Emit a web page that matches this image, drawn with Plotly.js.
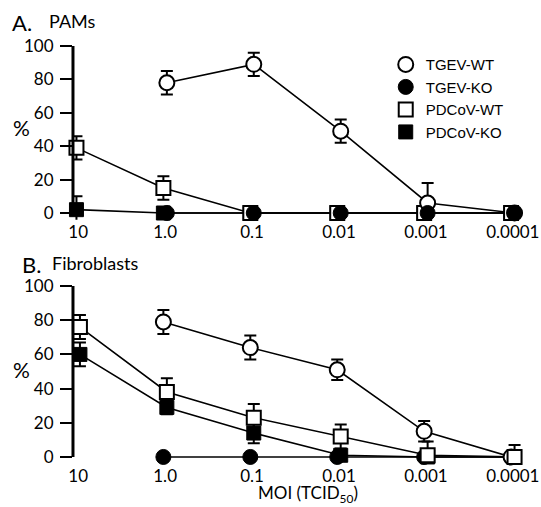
<!DOCTYPE html>
<html>
<head>
<meta charset="utf-8">
<script src="https://cdn.plot.ly/plotly-3.0.1.min.js"></script>
<style>html,body{margin:0;padding:0;background:#fff;}#chart{width:541px;height:507px;}</style>
</head>
<body>
<div id="chart"></div>
<script>
// MOI categories (TCID50)
const moi = ["10", "1.0", "0.1", "0.01", "0.001", "0.0001"];
const yTicks = [0, 20, 40, 60, 80, 100];

// Panel A: PAMs
const pamTgevWt = [null, 78, 89, 49, 6, 0];
const pamTgevWtErrUp = [0, 7, 7, 7, 12, 0];
const pamTgevWtErrDn = [0, 7, 7, 7, 6, 0];
const pamTgevKo = [null, 0, 0, 0, 0, 0];
const pamPdcovWt = [39, 15, 0, 0, 0, 0];
const pamPdcovWtErr = [7, 7, 0, 0, 0, 0];
const pamPdcovKo = [2, 0, 0, 0, 0, 0];
const pamPdcovKoErr = [8, 0, 0, 0, 0, 0];

// Panel B: Fibroblasts
const fibTgevWt = [null, 79, 64, 51, 15, 0];
const fibTgevWtErr = [0, 7, 7, 6, 6, 0];
const fibTgevKo = [null, 0, 0, 0, 0, 0];
const fibPdcovWt = [76, 38, 23, 12, 1, 0];
const fibPdcovWtErrUp = [7, 8, 8, 7, 8, 7];
const fibPdcovWtErrDn = [7, 8, 8, 7, 1, 0];
const fibPdcovKo = [60, 29, 14, 1, 0, 0];
const fibPdcovKoErr = [7, 4, 6, 0, 0, 0];

const LINE = {color: '#000', width: 1.6};
const style = {
  tgevWt: {symbol: 'circle', color: '#fff', size: 15, line: {color: '#000', width: 2}},
  tgevKo: {symbol: 'circle', color: '#000', size: 15, line: {color: '#000', width: 1}},
  pdWt: {symbol: 'square', color: '#fff', size: 14, line: {color: '#000', width: 2}},
  pdKo: {symbol: 'square', color: '#000', size: 14, line: {color: '#000', width: 1}}
};
function err(up, dn) {
  return {type: 'data', symmetric: false, array: up, arrayminus: dn || up,
          color: '#000', thickness: 2, width: 6};
}
function lineTr(y, xa, ya, grp) {
  return {type: 'scatter', mode: 'lines', x: moi, y: y, xaxis: xa, yaxis: ya,
          line: LINE, showlegend: false, offsetgroup: grp, hoverinfo: 'skip'};
}
function mkTr(name, y, mk, e, xa, ya, show, rank, grp) {
  return {type: 'scatter', mode: 'markers', name: name, x: moi, y: y,
          xaxis: xa, yaxis: ya, marker: mk, error_y: e,
          showlegend: show, legendrank: rank, offsetgroup: grp, cliponaxis: false};
}

const data = [
  // Panel A lines
  lineTr(pamPdcovKo, 'x', 'y', 'sq'),
  lineTr(pamPdcovWt, 'x', 'y', 'sq'),
  lineTr(pamTgevWt, 'x', 'y', 'ci'),
  lineTr(pamTgevKo, 'x', 'y', 'ci'),
  // Panel A markers (squares under circles)
  mkTr('PDCoV-KO', pamPdcovKo, style.pdKo, err(pamPdcovKoErr), 'x', 'y', true, 4, 'sq'),
  mkTr('PDCoV-WT', pamPdcovWt, style.pdWt, err(pamPdcovWtErr), 'x', 'y', true, 3, 'sq'),
  mkTr('TGEV-WT', pamTgevWt, style.tgevWt, err(pamTgevWtErrUp, pamTgevWtErrDn), 'x', 'y', true, 1, 'ci'),
  mkTr('TGEV-KO', pamTgevKo, style.tgevKo, {visible: false}, 'x', 'y', true, 2, 'ci'),
  // Panel B lines
  lineTr(fibTgevKo, 'x2', 'y2', 'ci'),
  lineTr(fibPdcovKo, 'x2', 'y2', 'sq'),
  lineTr(fibTgevWt, 'x2', 'y2', 'ci'),
  lineTr(fibPdcovWt, 'x2', 'y2', 'sq'),
  // Panel B markers
  mkTr('TGEV-KO', fibTgevKo, style.tgevKo, {visible: false}, 'x2', 'y2', false, 2, 'ci'),
  mkTr('PDCoV-KO', fibPdcovKo, style.pdKo, err(fibPdcovKoErr), 'x2', 'y2', false, 4, 'sq'),
  mkTr('TGEV-WT', fibTgevWt, style.tgevWt, err(fibTgevWtErr), 'x2', 'y2', false, 1, 'ci'),
  mkTr('PDCoV-WT', fibPdcovWt, style.pdWt, err(fibPdcovWtErrUp, fibPdcovWtErrDn), 'x2', 'y2', false, 3, 'sq')
];

const tickFont = {family: 'Lato, "Open Sans", sans-serif', size: 17, color: '#000'};
function xax(anchor) {
  return {type: 'category', domain: [0.1349, 0.9704], anchor: anchor, range: [-0.06, 5.14],
          showgrid: false, zeroline: false, showline: false, ticks: '', tickfont: tickFont,
          categoryorder: 'array', categoryarray: moi, fixedrange: true};
}
function yax(anchor, dom) {
  return {domain: dom, anchor: anchor, range: [-4, 104], tickvals: yTicks,
          showgrid: false, zeroline: false, showline: false, ticks: 'outside', ticklen: 12,
          tickwidth: 2, tickcolor: '#000', tickfont: tickFont, ticklabelstandoff: 3, fixedrange: true};
}

const annFont = {family: 'Lato, "Open Sans", sans-serif', color: '#000'};
const layout = {
  width: 541, height: 507,
  margin: {l: 0, r: 0, t: 0, b: 0},
  paper_bgcolor: '#fff', plot_bgcolor: 'rgba(0,0,0,0)',
  scattermode: 'group', scattergap: 0.92,
  xaxis: xax('y'), yaxis: yax('x', [0.5667, 0.9225]),
  xaxis2: xax('y2'), yaxis2: yax('x2', [0.0852, 0.4493]),
  showlegend: true,
  legend: {x: 0.713, y: 0.905, xanchor: 'left', yanchor: 'top', bgcolor: 'rgba(0,0,0,0)',
           font: {family: '"Liberation Sans", Arial, sans-serif', size: 15, color: '#000'},
           itemwidth: 30, tracegroupgap: 0},
  shapes: [
    {type: 'line', xref: 'x domain', yref: 'y', x0: 0, x1: 0, y0: 0, y1: 100, line: {color: '#000', width: 3}},
    {type: 'line', xref: 'x2 domain', yref: 'y2', x0: 0, x1: 0, y0: 0, y1: 100, line: {color: '#000', width: 3}}
  ],
  annotations: [
    {xref: 'paper', yref: 'paper', x: 10/541, y: 1 - 22/507, xanchor: 'left', yanchor: 'middle', showarrow: false, text: 'A.', font: Object.assign({size: 22}, annFont)},
    {xref: 'paper', yref: 'paper', x: 47/541, y: 1 - 21/507, xanchor: 'left', yanchor: 'middle', showarrow: false, text: 'PAMs', font: Object.assign({size: 18}, annFont)},
    {xref: 'paper', yref: 'paper', x: 20/541, y: 1 - 264/507, xanchor: 'left', yanchor: 'middle', showarrow: false, text: 'B.', font: Object.assign({size: 22}, annFont)},
    {xref: 'paper', yref: 'paper', x: 50/541, y: 1 - 263/507, xanchor: 'left', yanchor: 'middle', showarrow: false, text: 'Fibroblasts', font: Object.assign({size: 18}, annFont)},
    {xref: 'paper', yref: 'paper', x: 21/541, y: 1 - 128/507, xanchor: 'center', yanchor: 'middle', showarrow: false, text: '%', font: Object.assign({size: 21}, annFont)},
    {xref: 'paper', yref: 'paper', x: 21/541, y: 1 - 369/507, xanchor: 'center', yanchor: 'middle', showarrow: false, text: '%', font: Object.assign({size: 21}, annFont)},
    {xref: 'paper', yref: 'paper', x: 308/541, y: 1 - 494/507, xanchor: 'center', yanchor: 'middle', showarrow: false, text: 'MOI (TCID<sub>50</sub>)', font: Object.assign({size: 17}, annFont)}
  ]
};

Plotly.newPlot('chart', data, layout, {staticPlot: true, displayModeBar: false});
</script>
</body>
</html>
